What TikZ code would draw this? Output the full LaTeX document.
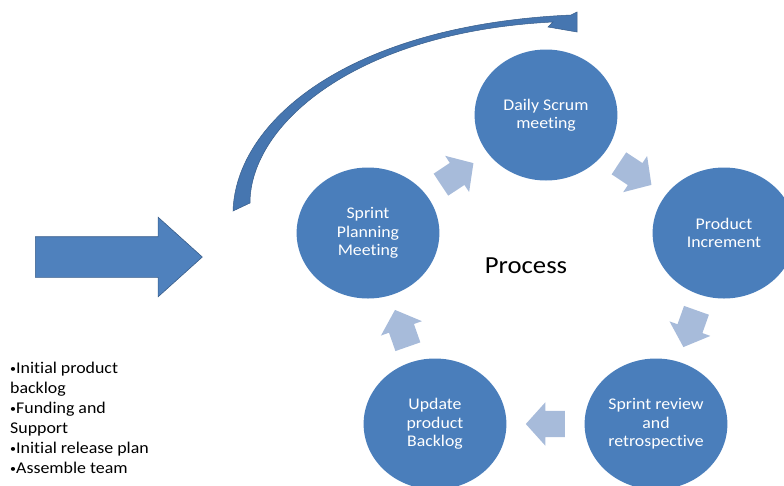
\documentclass[tikz,border=0pt]{standalone}
\usepackage{fontspec}
\setmainfont{Carlito}[Ligatures=NoCommon]
\usetikzlibrary{shapes.geometric,shapes.arrows,calc}
\definecolor{circblue}{RGB}{74,126,187}
\definecolor{lightarrow}{RGB}{167,187,218}
\definecolor{bigblue}{RGB}{79,129,189}
\definecolor{edgeblue}{RGB}{56,93,138}
\definecolor{curveblue}{RGB}{70,118,176}
\newcommand{\smallbul}{{\fontsize{11}{11}\selectfont\raisebox{1pt}{•}}}
\begin{document}
\begin{tikzpicture}[x=1pt,y=-1pt,
  stage/.style={circle, fill=circblue, minimum size=131pt, inner sep=0pt, xscale=1.09,
    text=white, align=center, font=\fontsize{16.3}{18.5}\selectfont},
  cyclearrow/.style={single arrow, fill=lightarrow, minimum height=39pt, minimum width=43pt,
    single arrow head extend=8.5pt, single arrow tip angle=96, inner xsep=0pt, inner ysep=13pt,
    sloped, allow upside down, pos=0, anchor=tail},
  bigarrow/.style={single arrow, fill=bigblue, draw=edgeblue, line width=0.6pt,
    minimum height=167pt, minimum width=79pt, single arrow head extend=19.5pt,
    single arrow tip angle=84, inner xsep=0pt, inner ysep=20pt},
  plain/.style={inner sep=0pt, xscale=1.09}
]
\path[use as bounding box] (0,0) rectangle (784,485);
\clip (0,0) rectangle (784,485);

% curved arrow
\filldraw[fill=curveblue, draw=edgeblue, line width=0.5pt]
  (233,211) .. controls (236,120) and (350,25) .. (571,15)
  -- (577,12) -- (577,32) -- (548,27) -- (553,22)
  .. controls (355,32) and (250,125) .. (250,203) -- cycle;

% input arrow
\node[bigarrow, anchor=tail] (inarrow) at (35,257) {};

% stages
\node[stage] (ds) at (546,115) {Daily Scrum\\meeting};
\node[stage] (pi) at (724,233) {Product\\Increment};
\node[stage] (sr) at (656,424) {Sprint review\\and\\retrospective};
\node[stage] (ub) at (435,424) {Update\\product\\Backlog};
\node[stage] (sp) at (368,233) {Sprint\\Planning\\Meeting};

% cycle arrows (tail placed half an arrow length before the midpoint)
\path ($(sp)!0.5!(ds)!19.5pt!(sp)$) -- node[cyclearrow] (a1) {} (ds);
\path ($(ds)!0.5!(pi)!19.5pt!(ds)$) -- node[cyclearrow] (a2) {} (pi);
\path ($(pi)!0.5!(sr)!19.5pt!(pi)$) -- node[cyclearrow] (a3) {} (sr);
\path ($(sr)!0.5!(ub)!19.5pt!(sr)$) -- node[cyclearrow] (a4) {} (ub);
\path ($(ub)!0.5!(sp)!19.5pt!(ub)$) -- node[cyclearrow] (a5) {} (sp);

% labels
\node[plain, font=\fontsize{24.5}{29}\selectfont] (proc) at (526,266) {Process};
\node[plain, anchor=north west, align=left, font=\fontsize{16.4}{20}\selectfont] (inputs) at (10,362)
  {\smallbul Initial product\\backlog\\\smallbul Funding and\\Support\\\smallbul Initial release plan\\\smallbul Assemble team};
\end{tikzpicture}
\end{document}
